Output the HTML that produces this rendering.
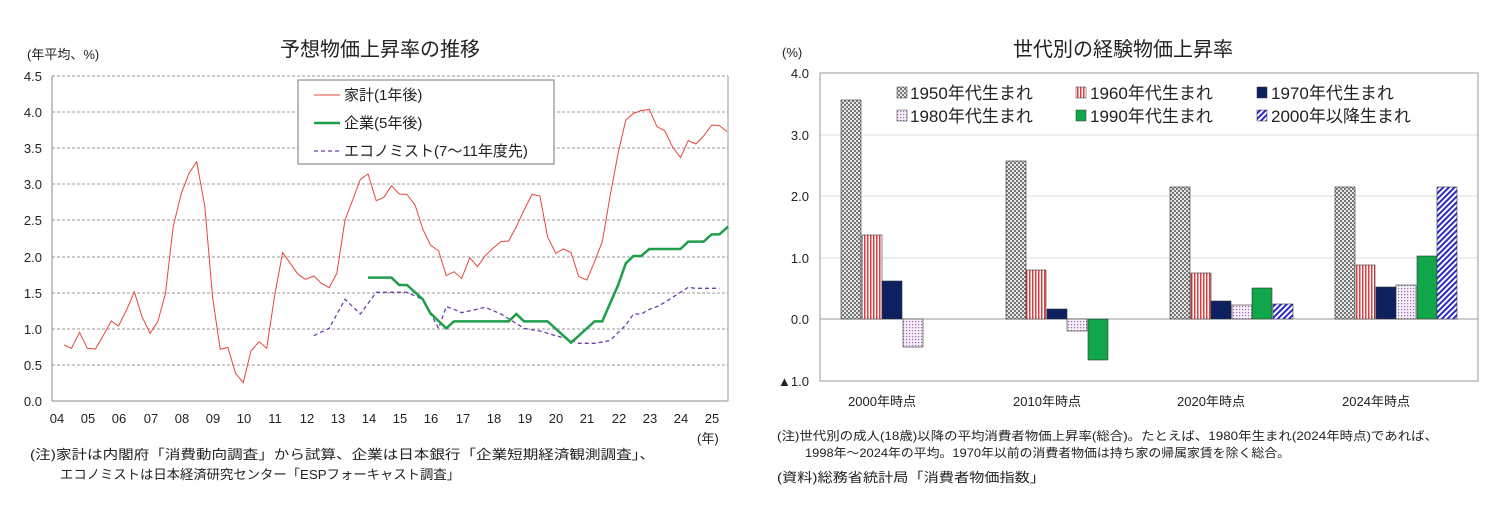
<!DOCTYPE html>
<html><head><meta charset="utf-8"><style>
body{margin:0;background:#fff}
text{font-family:"Liberation Sans","Noto Sans CJK JP",sans-serif;fill:#222}
</style></head><body>
<svg width="1491" height="514" viewBox="0 0 1491 514" xmlns="http://www.w3.org/2000/svg">
<defs>
<pattern id="chk" width="4" height="4" patternUnits="userSpaceOnUse"><rect width="4" height="4" fill="#e6e6e6"/><rect width="2" height="2" fill="#777"/><rect x="2" y="2" width="2" height="2" fill="#777"/></pattern>
<pattern id="vs" width="3" height="4" patternUnits="userSpaceOnUse"><rect width="3" height="4" fill="#fff"/><rect width="1.5" height="4" fill="#e03c3c"/></pattern>
<pattern id="dot" width="3" height="3" patternUnits="userSpaceOnUse"><rect width="3" height="3" fill="#f6eefa"/><rect width="1.2" height="1.2" fill="#9b6bb0"/></pattern>
<pattern id="dg" width="4" height="4" patternUnits="userSpaceOnUse" patternTransform="rotate(45)"><rect width="4" height="4" fill="#fff"/><rect width="2" height="4" fill="#2a2ac8"/></pattern>
</defs>

<!-- LEFT CHART -->
<text x="380" y="56" font-size="20" text-anchor="middle">予想物価上昇率の推移</text>
<text x="27" y="59" font-size="13">(年平均、%)</text>
<g stroke="#999" stroke-dasharray="3,2" stroke-width="1">
<line x1="52" x2="728" y1="76" y2="76"/><line x1="52" x2="728" y1="112" y2="112"/><line x1="52" x2="728" y1="148" y2="148"/><line x1="52" x2="728" y1="184" y2="184"/><line x1="52" x2="728" y1="220" y2="220"/><line x1="52" x2="728" y1="257" y2="257"/><line x1="52" x2="728" y1="293" y2="293"/><line x1="52" x2="728" y1="329" y2="329"/><line x1="52" x2="728" y1="365" y2="365"/>
</g>
<line x1="728" x2="728" y1="76" y2="401" stroke="#999"/>
<line x1="52" x2="52" y1="76" y2="401" stroke="#888"/>
<line x1="52" x2="728" y1="401" y2="401" stroke="#888"/>
<g font-size="13" text-anchor="end">
<text x="42" y="81">4.5</text><text x="42" y="117">4.0</text><text x="42" y="153">3.5</text><text x="42" y="189">3.0</text><text x="42" y="225">2.5</text><text x="42" y="262">2.0</text><text x="42" y="298">1.5</text><text x="42" y="334">1.0</text><text x="42" y="370">0.5</text><text x="42" y="406">0.0</text>
</g>
<g font-size="13" text-anchor="middle">
<text x="57" y="423">04</text><text x="88" y="423">05</text><text x="119" y="423">06</text><text x="151" y="423">07</text><text x="182" y="423">08</text><text x="213" y="423">09</text><text x="244" y="423">10</text><text x="275" y="423">11</text><text x="307" y="423">12</text><text x="338" y="423">13</text><text x="369" y="423">14</text><text x="400" y="423">15</text><text x="431" y="423">16</text><text x="463" y="423">17</text><text x="494" y="423">18</text><text x="525" y="423">19</text><text x="556" y="423">20</text><text x="587" y="423">21</text><text x="619" y="423">22</text><text x="650" y="423">23</text><text x="681" y="423">24</text><text x="712" y="423">25</text>
</g>
<text x="697" y="443" font-size="13">(年)</text>
<g transform="translate(-0.6,30) scale(0.48,0.33333)" fill="none">
<polyline vector-effect="non-scaling-stroke" stroke="#e8453c" stroke-width="1" points="135,945 150,955 167,907 183,955 200,957 217,915 233,873 248,888 265,840 281,785 297,860 314,910 330,875 346,790 362,590 379,490 395,430 411,395 428,530 444,800 460,958 476,952 492,1030 508,1058 524,963 541,935 557,955 573,800 590,668 606,700 622,733 638,748 655,738 671,760 687,773 703,730 720,570 736,510 752,448 768,432 785,512 801,502 817,467 833,492 849,493 866,525 882,597 898,645 915,663 931,737 947,725 963,745 980,683 996,710 1012,677 1028,655 1045,635 1061,633 1077,590 1093,540 1110,493 1126,498 1142,620 1159,670 1175,657 1191,668 1207,740 1224,750 1240,695 1256,635 1272,500 1289,370 1305,270 1321,250 1337,242 1354,238 1370,290 1386,302 1402,350 1419,383 1435,332 1451,342 1467,318 1484,285 1500,287 1516,305"/>
<polyline vector-effect="non-scaling-stroke" stroke="#6a3fa8" stroke-width="1.3" stroke-dasharray="4,3" points="655,917 687,895 720,808 752,852 785,787 849,787 882,808 898,850 915,895 931,830 947,838 963,848 1012,832 1045,852 1093,895 1126,903 1159,917 1191,930 1207,940 1240,940 1272,932 1305,885 1321,852 1337,852 1354,838 1370,830 1386,817 1419,787 1435,772 1451,775 1500,775"/>
<polyline vector-effect="non-scaling-stroke" stroke="#1e9e4a" stroke-width="2.5" points="768,743 817,743 833,765 849,765 882,808 898,850 931,895 947,874 963,874 1061,874 1077,852 1093,874 1142,874 1191,938 1240,874 1256,874 1289,765 1305,700 1321,678 1337,678 1354,657 1419,657 1435,635 1467,635 1484,613 1500,613 1518,590"/>
</g>
<rect x="298" y="80" width="256" height="84" fill="#fff" stroke="#777"/>
<line x1="314" x2="340" y1="95" y2="95" stroke="#e8453c"/>
<line x1="314" x2="340" y1="123" y2="123" stroke="#1e9e4a" stroke-width="2.5"/>
<line x1="314" x2="340" y1="151" y2="151" stroke="#6a3fa8" stroke-width="1.3" stroke-dasharray="4,3"/>
<g font-size="15"><text x="344" y="100">家計(1年後)</text><text x="344" y="128">企業(5年後)</text><text x="344" y="156">エコノミスト(7～11年度先)</text></g>
<text x="30" y="459" font-size="13" textLength="625" lengthAdjust="spacingAndGlyphs">(注)家計は内閣府「消費動向調査」から試算、企業は日本銀行「企業短期経済観測調査」、</text>
<text x="60" y="479" font-size="13" textLength="400" lengthAdjust="spacingAndGlyphs">エコノミストは日本経済研究センター「ESPフォーキャスト調査」</text>

<!-- RIGHT CHART -->
<text x="1123" y="56" font-size="20" text-anchor="middle">世代別の経験物価上昇率</text>
<text x="782" y="57" font-size="13">(%)</text>
<g stroke="#ddd"><line x1="820" x2="1478" y1="135" y2="135"/><line x1="820" x2="1478" y1="196" y2="196"/><line x1="820" x2="1478" y1="258" y2="258"/></g>
<rect x="820" y="73" width="658" height="308" fill="none" stroke="#999"/>
<line x1="820" x2="1478" y1="319" y2="319" stroke="#999"/>
<g font-size="13" text-anchor="end">
<text x="809" y="78">4.0</text><text x="809" y="140">3.0</text><text x="809" y="201">2.0</text><text x="809" y="263">1.0</text><text x="809" y="324">0.0</text><text x="809" y="386">▲1.0</text>
</g>
<g stroke="#333" stroke-width="0.6">
<rect x="841" y="100" width="20" height="219" fill="url(#chk)"/>
<rect x="862" y="235" width="20" height="84" fill="url(#vs)"/>
<rect x="882" y="281" width="20" height="38" fill="#0d2060"/>
<rect x="903" y="319" width="20" height="28" fill="url(#dot)"/>
<rect x="1006" y="161" width="20" height="158" fill="url(#chk)"/>
<rect x="1026" y="270" width="20" height="49" fill="url(#vs)"/>
<rect x="1047" y="309" width="20" height="10" fill="#0d2060"/>
<rect x="1067" y="319" width="20" height="12" fill="url(#dot)"/>
<rect x="1088" y="319" width="20" height="41" fill="#12a64a"/>
<rect x="1170" y="187" width="20" height="132" fill="url(#chk)"/>
<rect x="1191" y="273" width="20" height="46" fill="url(#vs)"/>
<rect x="1211" y="301" width="20" height="18" fill="#0d2060"/>
<rect x="1232" y="305" width="20" height="14" fill="url(#dot)"/>
<rect x="1252" y="288" width="20" height="31" fill="#12a64a"/>
<rect x="1273" y="304" width="20" height="15" fill="url(#dg)"/>
<rect x="1335" y="187" width="20" height="132" fill="url(#chk)"/>
<rect x="1355" y="265" width="20" height="54" fill="url(#vs)"/>
<rect x="1376" y="287" width="20" height="32" fill="#0d2060"/>
<rect x="1396" y="285" width="20" height="34" fill="url(#dot)"/>
<rect x="1417" y="256" width="20" height="63" fill="#12a64a"/>
<rect x="1437" y="187" width="20" height="132" fill="url(#dg)"/>
</g>
<g font-size="13" text-anchor="middle"><text x="882" y="406">2000年時点</text><text x="1047" y="406">2010年時点</text><text x="1211" y="406">2020年時点</text><text x="1376" y="406">2024年時点</text></g>
<g stroke="#333" stroke-width="0.5">
<rect x="897" y="87" width="10" height="11" fill="url(#chk)"/>
<rect x="1076" y="87" width="10" height="11" fill="url(#vs)"/>
<rect x="1257" y="87" width="10" height="11" fill="#0d2060"/>
<rect x="897" y="110" width="10" height="11" fill="url(#dot)"/>
<rect x="1076" y="110" width="10" height="11" fill="#12a64a"/>
<rect x="1257" y="110" width="10" height="11" fill="url(#dg)"/>
</g>
<g font-size="17"><text x="910" y="99">1950年代生まれ</text><text x="1090" y="99">1960年代生まれ</text><text x="1271" y="99">1970年代生まれ</text><text x="910" y="122">1980年代生まれ</text><text x="1090" y="122">1990年代生まれ</text><text x="1271" y="122">2000年以降生まれ</text></g>
<text x="777" y="440" font-size="12" textLength="661" lengthAdjust="spacingAndGlyphs">(注)世代別の成人(18歳)以降の平均消費者物価上昇率(総合)。たとえば、1980年生まれ(2024年時点)であれば、</text>
<text x="805" y="457" font-size="12" textLength="485" lengthAdjust="spacingAndGlyphs">1998年～2024年の平均。1970年以前の消費者物価は持ち家の帰属家賃を除く総合。</text>
<text x="777" y="482" font-size="13" textLength="268" lengthAdjust="spacingAndGlyphs">(資料)総務省統計局「消費者物価指数」</text>
</svg>
</body></html>
